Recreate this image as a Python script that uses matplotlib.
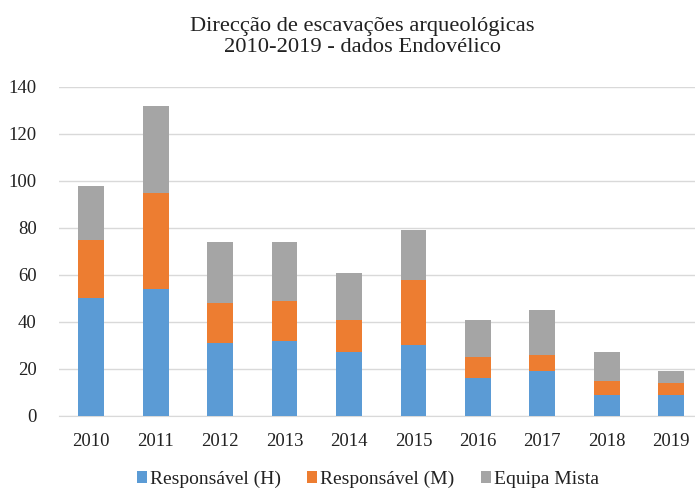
import matplotlib.pyplot as plt
import numpy as np

plt.rcParams['font.family'] = ['Liberation Serif', 'DejaVu Serif']

anos = ['2010', '2011', '2012', '2013', '2014', '2015', '2016', '2017', '2018', '2019']
resp_h = [50, 54, 31, 32, 27, 30, 16, 19, 9, 9]
resp_m = [25, 41, 17, 17, 14, 28, 9, 7, 6, 5]
mista = [23, 37, 26, 25, 20, 21, 16, 19, 12, 5]

cores = ['#5b9bd5', '#ed7d31', '#a5a5a5']
nomes = ['Responsável (H)', 'Responsável (M)', 'Equipa Mista']

fig = plt.figure(figsize=(6.95, 4.91), dpi=100)
ax = fig.add_axes([0.085, 0.153, 0.927, 0.670])

x = np.arange(len(anos))
h = np.array(resp_h)
m = np.array(resp_m)
e = np.array(mista)
w = 0.40
ax.bar(x, h, w, color=cores[0], label=nomes[0], zorder=3)
ax.bar(x, m, w, bottom=h, color=cores[1], label=nomes[1], zorder=3)
ax.bar(x, e, w, bottom=h + m, color=cores[2], label=nomes[2], zorder=3)

ax.set_xlim(-0.5, len(anos) - 0.5)
ax.set_ylim(0, 140)
ax.set_yticks(range(0, 141, 20))
ax.set_xticks(x)
ax.set_xticklabels(anos)
ax.yaxis.grid(True, color='#d9d9d9', linewidth=1, zorder=0)
for s in ['top', 'right', 'left']:
    ax.spines[s].set_visible(False)
ax.spines['bottom'].set_color('#d9d9d9')
ax.tick_params(axis='both', length=0, labelsize=13.5, colors='#222222')
ax.tick_params(axis='x', pad=12)
ax.tick_params(axis='y', pad=16)

fig.text(0.521, 0.925, 'Direcção de escavações arqueológicas\n2010-2019 - dados Endovélico',
         ha='center', va='center', fontsize=16.2, color='#222222', linespacing=1.15)

fig.legend(loc='center', bbox_to_anchor=(0.529, 0.024), ncol=3, frameon=False,
           fontsize=14, handlelength=0.52, handleheight=0.52, handletextpad=0.15,
           columnspacing=1.35, labelcolor='#222222')

fig.savefig('out.png', dpi=100)
